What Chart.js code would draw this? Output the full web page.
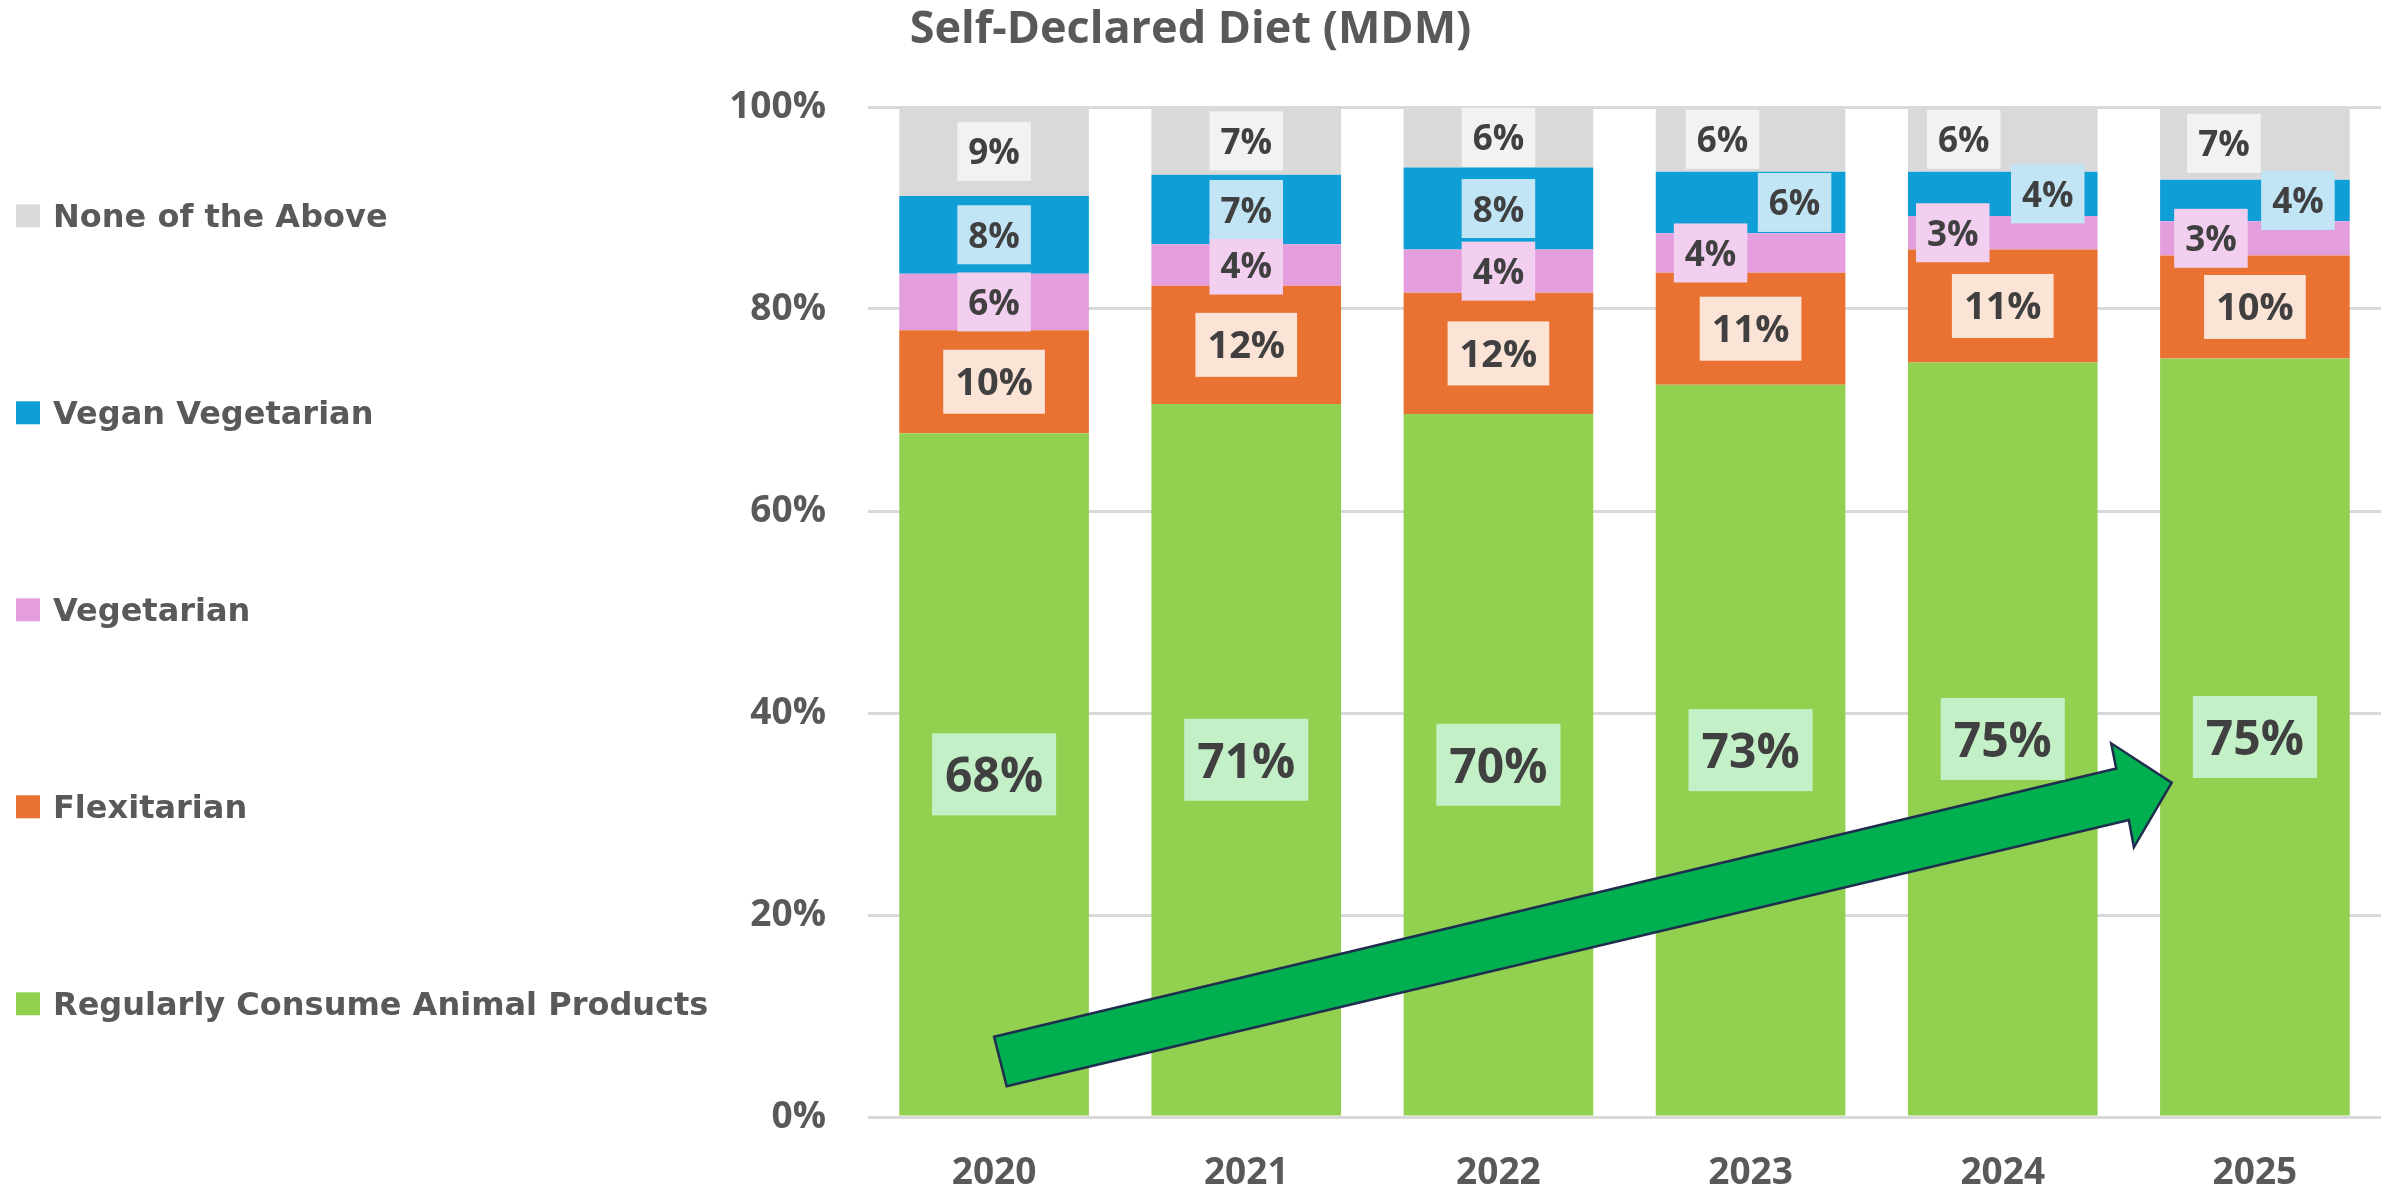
<!DOCTYPE html>
<html>
<head>
<meta charset="utf-8">
<script src="https://cdn.jsdelivr.net/npm/chart.js@4.4.1/dist/chart.umd.min.js"></script>
<style>
  html, body { margin: 0; padding: 0; background: #ffffff; }
  #wrap { width: 2392px; height: 1193px; }
</style>
</head>
<body>
<div id="wrap"><canvas id="c" width="2392" height="1193"></canvas></div>
<script>
// ---- Data ----
const categories = ['2020', '2021', '2022', '2023', '2024', '2025'];
const seriesNames = ['Regularly Consume Animal Products', 'Flexitarian', 'Vegetarian', 'Vegan Vegetarian', 'None of the Above'];
const regularlyConsume = [67.7, 70.6, 69.6, 72.5, 74.7, 75.1];
const flexitarian      = [10.2, 11.7, 12.0, 11.1, 11.2, 10.2];
const vegetarian       = [5.6, 4.1, 4.3, 3.9, 3.3, 3.4];
const veganVegetarian  = [7.7, 6.9, 8.1, 6.1, 4.4, 4.1];
const noneOfTheAbove   = [8.8, 6.7, 6.0, 6.4, 6.4, 7.2];
const yTickValues = [0, 20, 40, 60, 80, 100];

// ---- Styles ----
const FONT = '"Open Sans", "DejaVu Sans", sans-serif';
const LEGEND_FONT = '"DejaVu Sans", "Open Sans", sans-serif';
const AXIS_GREY = '#595959';
const segColors = ['#92D050', '#E97132', '#E59EDD', '#0F9ED5', '#D9D9D9'];
const labelBg   = ['#C4F0C8', '#FBE3D6', '#F2CEEF', '#C1E5F5', '#F2F2F2'];
const labelFont = [48, 38, 35, 35, 35];
const labelBoxH = [82, 64, 59, 59, 59];
const labelPadX = [13, 12, 11, 11, 11];
// manual horizontal nudges of some data labels (dataset index -> per category px)
const labelNudge = {
  2: [0, 0, 0, -40, -50, -44],
  3: [0, 0, 0, 44, 45, 43],
  4: [0, 0, 0, -28, -39, -31]
};
// arrow annotation in (category offset, value%) space
const arrowShape = [
  [0.00, 7.95], [4.45, 34.5], [4.43, 37.0], [4.67, 33.1],
  [4.52, 26.7], [4.50, 29.4], [0.05, 3.05]
];

const seriesValues = [regularlyConsume, flexitarian, vegetarian, veganVegetarian, noneOfTheAbove];

const overlayPlugin = {
  id: 'overlay',
  afterDatasetsDraw(chart) {
    const ctx = chart.ctx;
    const xs = chart.scales.x, ys = chart.scales.y;
    const x0 = xs.getPixelForValue(0);
    const cw = xs.getPixelForValue(1) - x0;
    // arrow
    ctx.save();
    ctx.beginPath();
    arrowShape.forEach((p, i) => {
      const px = x0 + p[0] * cw, py = ys.getPixelForValue(p[1]);
      if (i === 0) ctx.moveTo(px, py); else ctx.lineTo(px, py);
    });
    ctx.closePath();
    ctx.fillStyle = '#00B050';
    ctx.fill();
    ctx.lineWidth = 2.5;
    ctx.lineJoin = 'miter';
    ctx.strokeStyle = '#1F2D4F';
    ctx.stroke();
    ctx.restore();

    // data labels
    chart.data.datasets.forEach((ds, di) => {
      const meta = chart.getDatasetMeta(di);
      meta.data.forEach((bar, i) => {
        const v = ds.data[i];
        const txt = Math.round(v) + '%';
        const cx = bar.x + ((labelNudge[di] || [])[i] || 0);
        const cy = (bar.y + bar.base) / 2;
        ctx.save();
        ctx.font = 'bold ' + labelFont[di] + 'px ' + FONT;
        const m = ctx.measureText(txt);
        const w = m.width + 2 * labelPadX[di];
        const h = labelBoxH[di];
        ctx.fillStyle = labelBg[di];
        ctx.fillRect(cx - w / 2, cy - h / 2, w, h);
        ctx.fillStyle = '#404040';
        ctx.textAlign = 'center';
        ctx.textBaseline = 'alphabetic';
        ctx.fillText(txt, cx, cy + (m.actualBoundingBoxAscent - m.actualBoundingBoxDescent) / 2);
        ctx.restore();
      });
    });
  },
  afterDraw(chart) {
    // side legend, top item is last dataset
    const ctx = chart.ctx;
    const top = 215.8, step = 197;
    ctx.save();
    ctx.font = 'bold 32px ' + LEGEND_FONT;
    const capH = ctx.measureText('H').actualBoundingBoxAscent;
    const items = chart.data.datasets.map(d => ({ label: d.label, color: d.backgroundColor })).reverse();
    items.forEach((it, k) => {
      const cy = top + k * step;
      ctx.fillStyle = it.color;
      ctx.fillRect(16, cy - 11.5, 24, 23);
      ctx.fillStyle = AXIS_GREY;
      ctx.textAlign = 'left';
      ctx.textBaseline = 'alphabetic';
      ctx.fillText(it.label, 53, cy + capH / 2);
    });
    ctx.restore();
  }
};

new Chart(document.getElementById('c'), {
  type: 'bar',
  data: {
    labels: categories,
    datasets: seriesValues.map((vals, i) => ({
      label: seriesNames[i],
      data: vals,
      backgroundColor: segColors[i],
      borderWidth: 0,
      barPercentage: 0.752,
      categoryPercentage: 1.0
    }))
  },
  options: {
    responsive: false,
    animation: false,
    devicePixelRatio: 1,
    layout: { padding: { left: 0, right: 11, top: 0, bottom: 0 } },
    plugins: {
      legend: { display: false },
      tooltip: { enabled: false },
      title: {
        display: true,
        text: 'Self-Declared Diet (MDM)',
        color: AXIS_GREY,
        font: { family: FONT, size: 45, weight: 'bold' },
        padding: { top: 3, bottom: 50 }
      }
    },
    scales: {
      x: {
        stacked: true,
        grid: { display: false, drawTicks: false },
        border: { display: false },
        ticks: { color: AXIS_GREY, font: { family: FONT, size: 37, weight: 'bold' }, padding: 34 },
        afterFit: s => { s.height = 76; }
      },
      y: {
        stacked: true,
        min: 0,
        max: 100,
        afterBuildTicks: s => { s.ticks = yTickValues.map(v => ({ value: v })); },
        ticks: { color: AXIS_GREY, font: { family: FONT, size: 37, weight: 'bold' }, padding: 42, callback: v => v + '%' },
        grid: { color: '#D9D9D9', lineWidth: 3, drawTicks: false },
        border: { display: false },
        afterFit: s => { s.width = 868; }
      }
    }
  },
  plugins: [overlayPlugin]
});
</script>
</body>
</html>
